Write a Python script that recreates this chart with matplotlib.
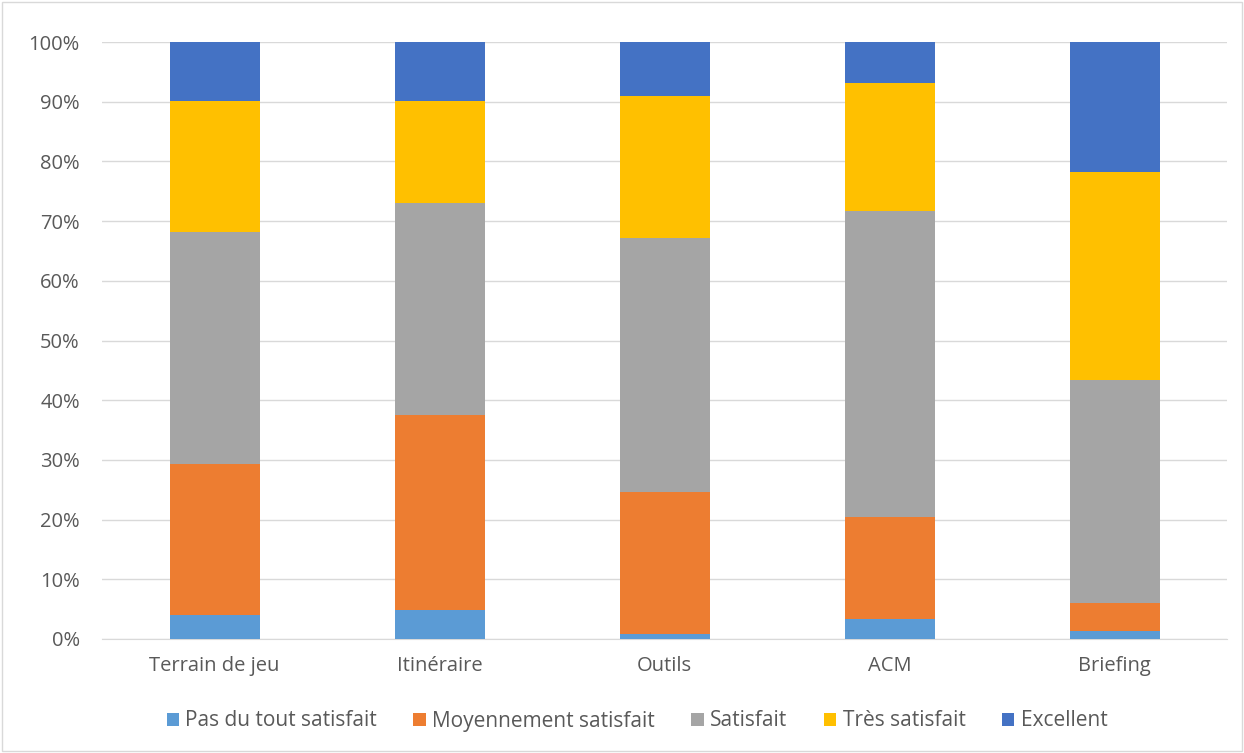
import matplotlib
matplotlib.use("Agg")
import matplotlib.pyplot as plt
import numpy as np
from matplotlib.patches import Rectangle

plt.rcParams['font.family'] = ['Open Sans', 'DejaVu Sans']

categories = ['Terrain de jeu', 'Itinéraire', 'Outils', 'ACM', 'Briefing']
series = ['Pas du tout satisfait', 'Moyennement satisfait', 'Satisfait',
          'Très satisfait', 'Excellent']
pas_du_tout = [4.0, 4.9, 0.8, 3.4, 1.3]
moyennement = [25.3, 32.6, 23.8, 17.0, 4.7]
satisfait = [38.9, 35.5, 42.6, 51.3, 37.4]
tres_satisfait = [21.9, 17.1, 23.8, 21.4, 34.8]
excellent = [9.9, 9.9, 9.0, 6.9, 21.8]
colors = ['#5B9BD5', '#ED7D31', '#A5A5A5', '#FFC000', '#4472C4']

data = np.array([pas_du_tout, moyennement, satisfait, tres_satisfait, excellent])
data = data / data.sum(axis=0) * 100

fig = plt.figure(figsize=(12.44, 7.53), dpi=100)
ax = fig.add_axes([102 / 1244, 1 - 639 / 753, 1125 / 1244, 597 / 753])

x = np.arange(len(categories))
bottom = np.zeros(len(categories))
for vals, name, c in zip(data, series, colors):
    ax.bar(x, vals, width=0.4, bottom=bottom, color=c, label=name, zorder=3)
    bottom += vals

ax.set_xlim(-0.5, len(categories) - 0.5)
ax.set_ylim(0, 100)
ax.set_yticks(np.arange(0, 101, 10))
ax.set_yticklabels([f'{v}%' for v in range(0, 101, 10)])
ax.set_xticks(x)
ax.set_xticklabels(categories)
ax.grid(axis='y', color='#D9D9D9', linewidth=1, zorder=0)
for s in ['top', 'right', 'left']:
    ax.spines[s].set_visible(False)
ax.spines['bottom'].set_color('#D9D9D9')
ax.tick_params(axis='both', length=0, colors='#595959', labelsize=14.5)
ax.tick_params(axis='x', pad=12)
ax.tick_params(axis='y', pad=16)

ax.legend(loc='center', bbox_to_anchor=(637 / 1244, 1 - 721 / 753), bbox_transform=fig.transFigure,
          ncol=5, frameon=False, fontsize=15, handlelength=0.6, handleheight=0.6,
          handletextpad=0.3, columnspacing=1.75, labelcolor='#595959')

fig.patches.append(Rectangle((2 / 1244, 2 / 753), 1240 / 1244, 749 / 753,
                             transform=fig.transFigure, fill=False,
                             edgecolor='#D9D9D9', linewidth=1))

fig.savefig('out.png', dpi=100)
